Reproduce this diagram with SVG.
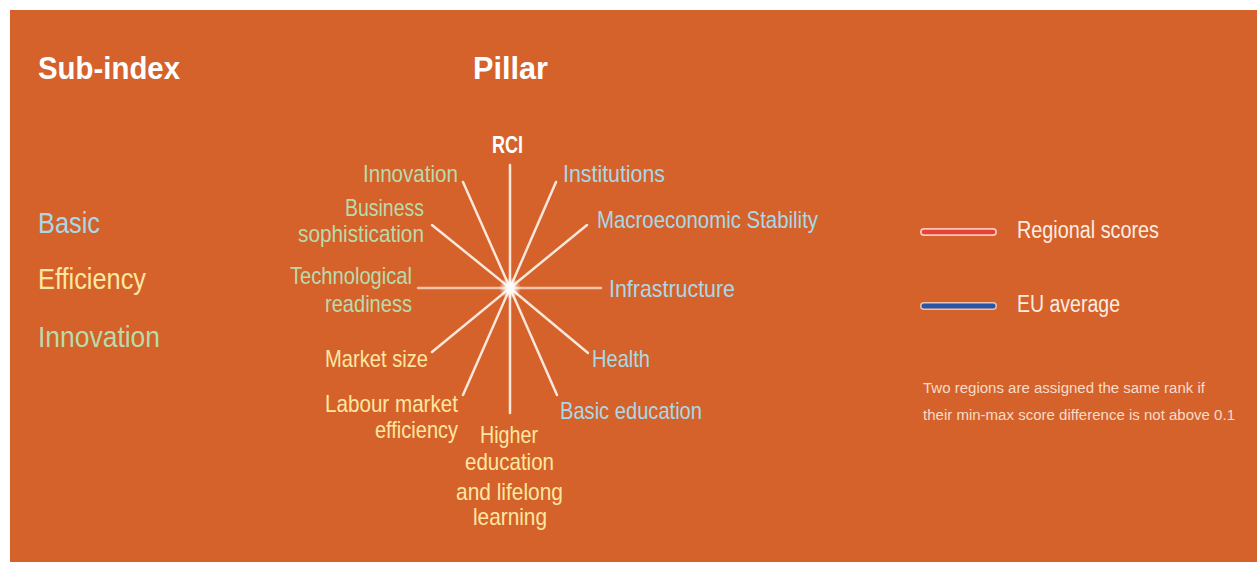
<svg xmlns="http://www.w3.org/2000/svg" width="1257" height="562" viewBox="0 0 1257 562">
<style>
text{font-family:"Liberation Sans","DejaVu Sans",sans-serif;}
.h{font-size:32px;font-weight:bold;fill:#FFFFFF;}
.sub{font-size:29px;}
.lab{font-size:24px;}
.b{fill:#A9D8E6;}
.e{fill:#FCE7A2;}
.i{fill:#B9DBAB;}
.leg{font-size:23px;fill:#FBEDE4;}
.note{font-size:15.5px;fill:#F6DCCB;}
.sp{stroke:#FBE6DA;stroke-width:2.5;stroke-linecap:round;fill:none;}
</style>
<defs>
<radialGradient id="glow">
<stop offset="0" stop-color="#FFFFFF" stop-opacity="1"/>
<stop offset="0.4" stop-color="#FFFFFF" stop-opacity="0.8"/>
<stop offset="1" stop-color="#FFFFFF" stop-opacity="0"/>
</radialGradient>
</defs>
<rect x="0" y="0" width="1257" height="562" fill="#FFFFFF"/>
<rect x="10" y="10" width="1247" height="552" fill="#D5622A"/>

<g id="headers">
<text class="h" x="38" y="79" textLength="142" lengthAdjust="spacingAndGlyphs">Sub-index</text>
<text class="h" x="473" y="79" textLength="75" lengthAdjust="spacingAndGlyphs">Pillar</text>
</g>

<g id="subindex">
<text class="sub b" x="38" y="233" textLength="62" lengthAdjust="spacingAndGlyphs">Basic</text>
<text class="sub e" x="38" y="289" textLength="108" lengthAdjust="spacingAndGlyphs">Efficiency</text>
<text class="sub i" x="38" y="347" textLength="122" lengthAdjust="spacingAndGlyphs">Innovation</text>
</g>

<g id="connectors">
<line class="sp" x1="510" y1="288" x2="510" y2="165"/>
<line class="sp" x1="510" y1="288" x2="556" y2="182"/>
<line class="sp" x1="510" y1="288" x2="587" y2="225"/>
<line class="sp" x1="510" y1="288" x2="601" y2="288" stroke-width="4" opacity="0.75"/>
<line class="sp" x1="510" y1="288" x2="588" y2="353"/>
<line class="sp" x1="510" y1="288" x2="557" y2="395"/>
<line class="sp" x1="510" y1="288" x2="510" y2="413"/>
<line class="sp" x1="510" y1="288" x2="463" y2="395"/>
<line class="sp" x1="510" y1="288" x2="432" y2="352"/>
<line class="sp" x1="510" y1="288" x2="418" y2="288" stroke-width="4" opacity="0.75"/>
<line class="sp" x1="510" y1="288" x2="432" y2="225"/>
<line class="sp" x1="510" y1="288" x2="463" y2="182"/>
<circle cx="510" cy="288" r="11" fill="url(#glow)"/>
</g>

<g id="node-rci"><text class="lab" x="492" y="153" fill="#FFFFFF" font-weight="bold" textLength="31" lengthAdjust="spacingAndGlyphs">RCI</text></g>
<g id="node-institutions"><text class="lab b" x="563" y="182" textLength="102" lengthAdjust="spacingAndGlyphs">Institutions</text></g>
<g id="node-macro"><text class="lab b" x="597" y="228" textLength="221" lengthAdjust="spacingAndGlyphs">Macroeconomic Stability</text></g>
<g id="node-infrastructure"><text class="lab b" x="609" y="297" textLength="126" lengthAdjust="spacingAndGlyphs">Infrastructure</text></g>
<g id="node-health"><text class="lab b" x="592" y="367" textLength="58" lengthAdjust="spacingAndGlyphs">Health</text></g>
<g id="node-basic-education"><text class="lab b" x="560" y="419" textLength="142" lengthAdjust="spacingAndGlyphs">Basic education</text></g>
<g id="node-higher-education">
<text class="lab e" x="480" y="443" textLength="58" lengthAdjust="spacingAndGlyphs">Higher</text>
<text class="lab e" x="465" y="470" textLength="89" lengthAdjust="spacingAndGlyphs">education</text>
<text class="lab e" x="456" y="500" textLength="107" lengthAdjust="spacingAndGlyphs">and lifelong</text>
<text class="lab e" x="473" y="525" textLength="74" lengthAdjust="spacingAndGlyphs">learning</text>
</g>
<g id="node-labour">
<text class="lab e" x="325" y="412" textLength="133" lengthAdjust="spacingAndGlyphs">Labour market</text>
<text class="lab e" x="375" y="438" textLength="83" lengthAdjust="spacingAndGlyphs">efficiency</text>
</g>
<g id="node-market-size"><text class="lab e" x="325" y="367" textLength="103" lengthAdjust="spacingAndGlyphs">Market size</text></g>
<g id="node-tech">
<text class="lab i" x="290" y="284" textLength="122" lengthAdjust="spacingAndGlyphs">Technological</text>
<text class="lab i" x="325" y="312" textLength="87" lengthAdjust="spacingAndGlyphs">readiness</text>
</g>
<g id="node-business">
<text class="lab i" x="345" y="216" textLength="79" lengthAdjust="spacingAndGlyphs">Business</text>
<text class="lab i" x="298" y="242" textLength="126" lengthAdjust="spacingAndGlyphs">sophistication</text>
</g>
<g id="node-innovation"><text class="lab i" x="363" y="182" textLength="95" lengthAdjust="spacingAndGlyphs">Innovation</text></g>

<g id="legend">
<line x1="924" y1="232" x2="993" y2="232" stroke="#F7C9B6" stroke-width="8" stroke-linecap="round"/>
<line x1="924" y1="232" x2="993" y2="232" stroke="#E8413A" stroke-width="4.5" stroke-linecap="round"/>
<text class="leg" x="1017" y="238" textLength="142" lengthAdjust="spacingAndGlyphs">Regional scores</text>
<line x1="924" y1="306" x2="993" y2="306" stroke="#E9C2B0" stroke-width="8" stroke-linecap="round"/>
<line x1="924" y1="306" x2="993" y2="306" stroke="#2B56A3" stroke-width="5" stroke-linecap="round"/>
<text class="leg" x="1017" y="312" textLength="103" lengthAdjust="spacingAndGlyphs">EU average</text>
</g>

<g id="note">
<text class="note" x="923" y="393" textLength="282" lengthAdjust="spacingAndGlyphs">Two regions are assigned the same rank if</text>
<text class="note" x="923" y="420" textLength="312" lengthAdjust="spacingAndGlyphs">their min-max score difference is not above 0.1</text>
</g>
</svg>
